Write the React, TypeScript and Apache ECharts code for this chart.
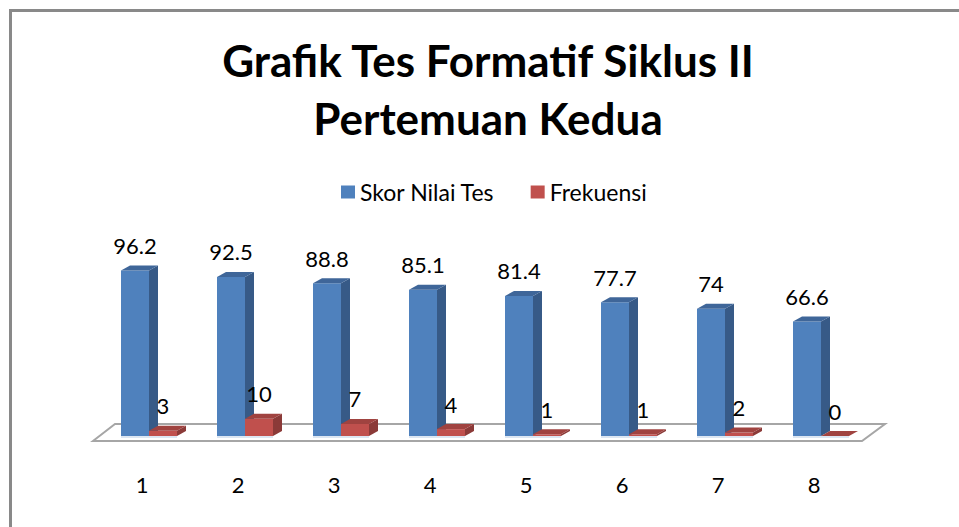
import React, { useEffect, useRef } from "react";
import * as echarts from "echarts";

const categories = ["1", "2", "3", "4", "5", "6", "7", "8"];
const skorNilaiTes = [96.2, 92.5, 88.8, 85.1, 81.4, 77.7, 74, 66.6];
const frekuensi = [3, 10, 7, 4, 1, 1, 2, 0];

const BAR_W = 28;
const DX = 9;
const DY = -5;
const FONT = "Lato, 'Noto Sans', sans-serif";

function makeRender(front: string, side: string, top: string, offset: number) {
  return (params: any, api: any) => {
    const i = api.value(0);
    const v = api.value(1);
    const p = api.coord([i, v]);
    const b = api.coord([i, 0]);
    const x0 = p[0] + offset;
    const x1 = x0 + BAR_W;
    const yt = p[1];
    const yb = b[1];
    return {
      type: "group",
      children: [
        {
          type: "rect",
          shape: { x: x0, y: yt, width: BAR_W, height: Math.max(0, yb - yt) },
          style: { fill: front },
        },
        {
          type: "polygon",
          shape: {
            points: [
              [x1, yt],
              [x1 + DX, yt + DY],
              [x1 + DX, yb + DY],
              [x1, yb],
            ],
          },
          style: { fill: side },
        },
        {
          type: "polygon",
          shape: {
            points: [
              [x0, yt],
              [x0 + DX, yt + DY],
              [x1 + DX, yt + DY],
              [x1, yt],
            ],
          },
          style: { fill: top },
        },
        {
          type: "rect",
          shape: { x: x0, y: yb, width: BAR_W, height: 2 },
          style: { fill: "#dce6f2" },
        },
        {
          type: "text",
          style: {
            text: String(v),
            x: (x0 + x1) / 2,
            y: yt - 25,
            textAlign: "center",
            textVerticalAlign: "middle",
            font: `22px ${FONT}`,
            fill: "#000",
          },
        },
      ],
    };
  };
}

export default function App() {
  const ref = useRef<HTMLDivElement>(null);
  useEffect(() => {
    if (!ref.current) return;
    const chart = echarts.init(ref.current, undefined, { renderer: "svg" });
    chart.setOption({
      animation: false,
      backgroundColor: "#fff",
      title: {
        text: "Grafik Tes Formatif Siklus II\nPertemuan Kedua",
        left: 488,
        textAlign: "center",
        top: 31,
        padding: 0,
        textStyle: {
          fontFamily: FONT,
          fontWeight: "bold",
          fontSize: 44,
          lineHeight: 58,
          color: "#000",
        },
      },
      legend: {
        left: 336,
        top: 175,
        itemWidth: 14,
        itemHeight: 13,
        itemGap: 36,
        icon: "rect",
        textStyle: { fontFamily: FONT, fontSize: 23, color: "#000", lineHeight: 24 },
        data: ["Skor Nilai Tes", "Frekuensi"],
      },
      grid: { left: 94, width: 768, top: 264, bottom: 91 },
      xAxis: {
        type: "category",
        data: categories,
        axisLine: { show: false },
        axisTick: { show: false },
        axisLabel: { fontFamily: FONT, fontSize: 22, color: "#000", margin: 37 },
      },
      yAxis: {
        type: "value",
        min: 0,
        max: 100,
        show: false,
        splitLine: { show: false },
      },
      graphic: [
        {
          type: "rect",
          shape: { x: 10.5, y: 10.5, width: 1200, height: 800 },
          style: { fill: "none", stroke: "#898989", lineWidth: 3 },
          z: 0,
        },
        {
          type: "polygon",
          shape: {
            points: [
              [93, 441],
              [115, 424],
              [885, 424],
              [862, 441],
            ],
          },
          style: { fill: "#fff", stroke: "#a6a6a6", lineWidth: 2 },
          z: 0,
        },
      ],
      series: [
        {
          name: "Skor Nilai Tes",
          type: "custom",
          renderItem: makeRender("#4f81bd", "#375a87", "#3f6699", -21),
          itemStyle: { color: "#4f81bd" },
          encode: { x: 0, y: 1 },
          data: skorNilaiTes.map((v, i) => [i, v]),
          z: 2,
        },
        {
          name: "Frekuensi",
          type: "custom",
          renderItem: makeRender("#c0504d", "#8b3a38", "#a04340", 7),
          itemStyle: { color: "#c0504d" },
          encode: { x: 0, y: 1 },
          data: frekuensi.map((v, i) => [i, v]),
          z: 3,
        },
      ],
    });
    return () => chart.dispose();
  }, []);
  return (
    <div
      ref={ref}
      style={{ position: "fixed", left: 0, top: 0, width: 959, height: 527 }}
    />
  );
}
